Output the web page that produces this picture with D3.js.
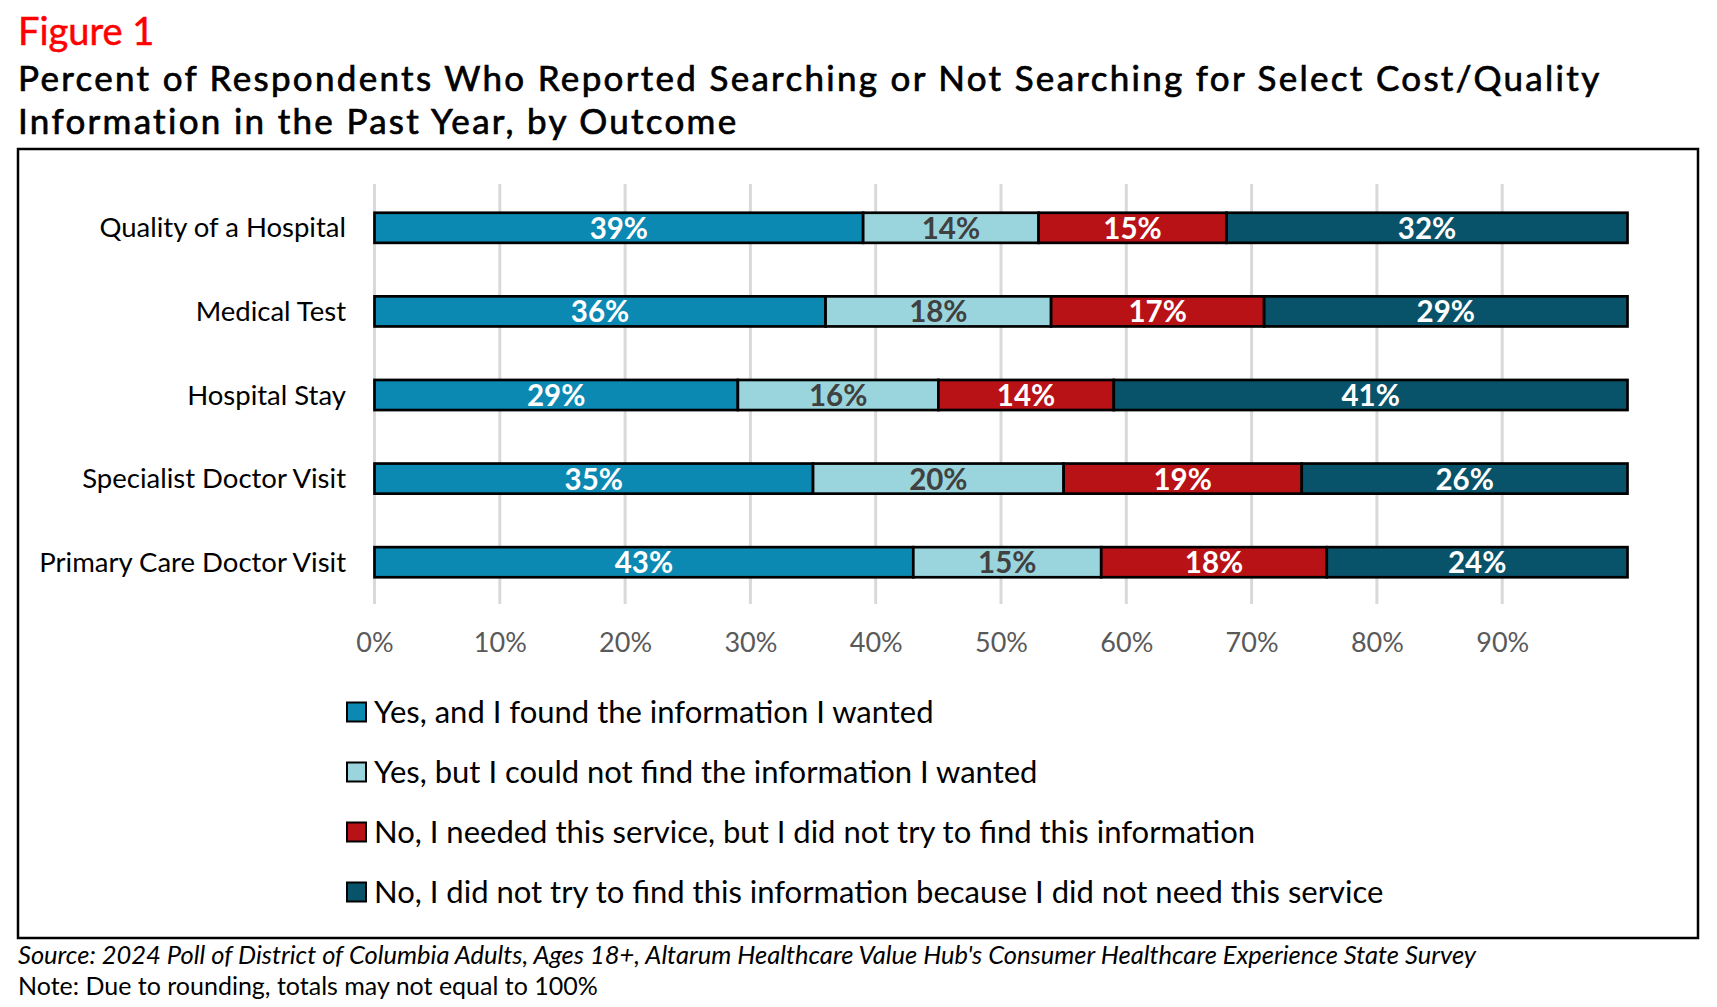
<!DOCTYPE html>
<html lang="en">
<head>
  <meta charset="UTF-8">
  <title>Figure 1</title>
  <script src="https://cdn.jsdelivr.net/npm/d3@7"></script>
  <style>
    body { margin: 0; background: #fff; }
    text { font-family: Lato, "Noto Sans", sans-serif; }
  </style>
</head>
<body>
<div id="grafica"></div>

<script>
// datos
categorias = ['Quality of a Hospital', 'Medical Test', 'Hospital Stay',
              'Specialist Doctor Visit', 'Primary Care Doctor Visit']
series = ['Yes, and I found the information I wanted',
          'Yes, but I could not find the information I wanted',
          'No, I needed this service, but I did not try to find this information',
          'No, I did not try to find this information because I did not need this service']
encontro    = [39, 36, 29, 35, 43]
noEncontro  = [14, 18, 16, 20, 15]
noIntento   = [15, 17, 14, 19, 18]
noNecesito  = [32, 29, 41, 26, 24]
ticks = [0, 10, 20, 30, 40, 50, 60, 70, 80, 90]

titulo = ['Percent of Respondents Who Reported Searching or Not Searching for Select Cost/Quality',
          'Information in the Past Year, by Outcome']

colores  = ['#0B89B2', '#9AD5DD', '#B81116', '#08536A']
colorTxt = ['#fff', '#404040', '#fff', '#fff']

ancho = 1717
alto  = 1007

svg = d3.select('#grafica')
        .append('svg')
        .attr('width', ancho)
        .attr('height', alto)

// titulos
svg.append('text')
   .attr('x', 18).attr('y', 45)
   .attr('fill', '#FF0000')
   .attr('stroke', '#FF0000').attr('stroke-width', 0.5)
   .style('font-size', '38px')
   .text('Figure 1')

svg.selectAll('.titulo')
   .data(titulo)
   .enter()
   .append('text')
   .attr('x', 18)
   .attr('y', (d, i) => 90.5 + i * 43)
   .attr('fill', '#000')
   .attr('stroke', '#000').attr('stroke-width', 0.7)
   .style('font-size', '35px')
   .style('letter-spacing', '2.3px')
   .text(d => d)

// marco
svg.append('rect')
   .attr('x', 18).attr('y', 149)
   .attr('width', 1680).attr('height', 789)
   .attr('fill', 'none')
   .attr('stroke', '#000')
   .attr('stroke-width', 2.5)

x = d3.scaleLinear()
      .domain([0, 100])
      .range([374.5, 1627.5])
y = d3.scaleBand()
      .domain(categorias)
      .range([186, 604])
      .paddingInner(0.64)
      .paddingOuter(0.32)

// rejilla
svg.selectAll('.grid')
   .data(ticks)
   .enter()
   .append('line')
   .attr('x1', d => x(d)).attr('x2', d => x(d))
   .attr('y1', 184).attr('y2', 604)
   .attr('stroke', '#D9D9D9')
   .attr('stroke-width', 3)

// eje x
ejeX = svg.append('g')
          .attr('transform', 'translate(0,604)')
          .call(d3.axisBottom(x).tickValues(ticks).tickSize(0).tickPadding(29)
                  .tickFormat(d => d + '%'))
ejeX.select('.domain').remove()
ejeX.selectAll('text')
    .attr('fill', '#595959')
    .style('font-size', '27px')
    .style('font-family', 'Lato, sans-serif')

// etiquetas de categoria
svg.selectAll('.cat')
   .data(categorias)
   .enter()
   .append('text')
   .attr('x', 346)
   .attr('y', d => y(d) + y.bandwidth() / 2)
   .attr('dy', '0.35em')
   .attr('text-anchor', 'end')
   .attr('fill', '#000')
   .style('font-size', '27.5px')
   .text(d => d)

// apilar
datos = categorias.map((c, i) => ({
  cat: c, s0: encontro[i], s1: noEncontro[i], s2: noIntento[i], s3: noNecesito[i]
}))
pila = d3.stack().keys(['s0', 's1', 's2', 's3'])(datos)

grupos = svg.selectAll('.serie')
            .data(pila)
            .enter()
            .append('g')

grupos.selectAll('rect')
      .data((d, i) => d.map(p => ({p: p, i: i})))
      .enter()
      .append('rect')
      .attr('x', d => x(d.p[0]))
      .attr('y', d => y(d.p.data.cat))
      .attr('width', d => x(d.p[1]) - x(d.p[0]))
      .attr('height', y.bandwidth())
      .attr('fill', d => colores[d.i])
      .attr('stroke', '#000')
      .attr('stroke-width', 2.7)

grupos.selectAll('.valor')
      .data((d, i) => d.map(p => ({p: p, i: i})))
      .enter()
      .append('text')
      .attr('x', d => (x(d.p[0]) + x(d.p[1])) / 2)
      .attr('y', d => y(d.p.data.cat) + y.bandwidth() / 2)
      .attr('dy', '0.37em')
      .attr('text-anchor', 'middle')
      .attr('fill', d => colorTxt[d.i])
      .style('font-size', '29.5px')
      .style('font-weight', 'bold')
      .text(d => (d.p[1] - d.p[0]) + '%')

// leyenda
leyY = d3.scalePoint()
         .domain(series)
         .range([712, 892])

ley = svg.selectAll('.ley')
         .data(series)
         .enter()
         .append('g')

ley.append('rect')
   .attr('x', 347)
   .attr('y', d => leyY(d) - 9.5)
   .attr('width', 19).attr('height', 19)
   .attr('fill', (d, i) => colores[i])
   .attr('stroke', '#000')
   .attr('stroke-width', 2)

ley.append('text')
   .attr('x', 374)
   .attr('y', leyY)
   .attr('dy', '0.35em')
   .attr('fill', '#000')
   .style('font-size', '31px')
   .text(d => d)

// fuente
svg.append('text')
   .attr('x', 18).attr('y', 964)
   .attr('fill', '#000')
   .style('font-size', '25.5px')
   .style('font-style', 'italic')
   .text("Source: 2024 Poll of District of Columbia Adults, Ages 18+, Altarum Healthcare Value Hub's Consumer Healthcare Experience State Survey")

svg.append('text')
   .attr('x', 18).attr('y', 995)
   .attr('fill', '#000')
   .style('font-size', '25px')
   .text('Note: Due to rounding, totals may not equal to 100%')
</script>
</body>
</html>
